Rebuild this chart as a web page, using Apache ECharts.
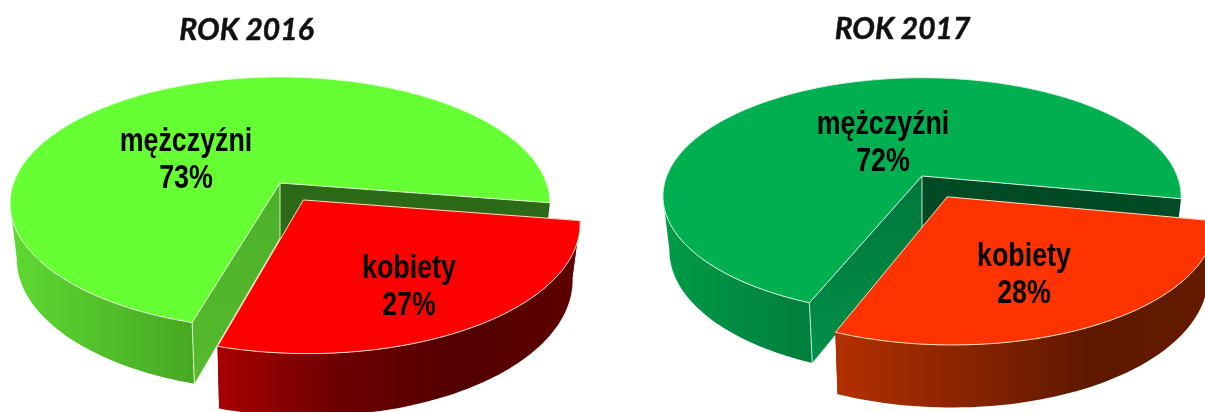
<!DOCTYPE html>
<html>
<head>
<meta charset="utf-8">
<style>html,body{margin:0;padding:0;background:#fff}#c{width:1205px;height:412px}</style>
<script src="https://cdn.jsdelivr.net/npm/echarts@6/dist/echarts.min.js"></script>
</head>
<body>
<div id="c"></div>
<script>
const categories = ['mężczyźni', 'kobiety'];
const years = ['ROK 2016', 'ROK 2017'];
const values2016 = [73, 27];
const values2017 = [72, 28];

const palette2016 = [
  { top: '#66ff33', wall: ['#5ed932', '#52c02a', '#46a822'], front: ['#4cb02a', '#55bb2c'], back: '#2d6a17', edge: '#e4ffd8' },
  { top: '#ff0000', wall: ['#a80000', '#6c0000', '#520000', '#5e0000'], front: ['#800000', '#800000'], back: '#500000', edge: '#ffe0c8' }
];
const palette2017 = [
  { top: '#00b050', wall: ['#009c48', '#008c42', '#007f3c'], front: ['#00773a', '#009048'], back: '#004a26', edge: '#d8f4e4' },
  { top: '#ff3300', wall: ['#b33000', '#8a2400', '#5e1800', '#641a00'], front: ['#802000', '#802000'], back: '#501400', edge: '#ffe0c0' }
];

const layouts = [
  { cx: 280, cy: 183, A: 266.5, B: 123, k: 0.16, m: 0.975, H: 54.7, start: 9, explode: 0.16,
    labels: [[186, 160], [409, 287]], titleX: 246.5, titleY: 15.5 },
  { cx: 922, cy: 176, A: 255.3, B: 115, k: 0.17, m: 0.975, H: 53.4, start: 11, explode: 0.2,
    labels: [[883, 143], [1024, 275]], titleX: 902.5, titleY: 14 }
];

const rad = d => d * Math.PI / 180;

function makeRender(values, palette, L) {
  const total = values.reduce((a, b) => a + b, 0);
  const topPt = (X, Z) => {
    const s = 1 / (1 - L.k * Z);
    return [L.cx + L.A * X * s, L.cy + L.B * Z * s];
  };
  const botPt = (X, Z) => {
    const s = 1 / (1 - L.k * Z);
    return [L.cx + L.A * X * s * L.m, L.cy + L.B * Z * s * L.m + L.H * s];
  };
  const grad = (stops, horizontal) => ({
    type: 'linear', x: 0, y: 0, x2: horizontal ? 1 : 0, y2: horizontal ? 0 : 1,
    colorStops: stops.map((c, i) => ({ offset: stops.length > 1 ? i / (stops.length - 1) : 0, color: c }))
  });
  return function (params) {
    const i = params.dataIndex;
    const pal = palette[i];
    const span = values[1] / total * 360;
    const a0 = i === 1 ? L.start : L.start + span;
    const a1 = i === 1 ? L.start + span : L.start + 360;
    const mid = rad((a0 + a1) / 2);
    const ox = i === 1 ? Math.cos(mid) * L.explode : 0;
    const oz = i === 1 ? Math.sin(mid) * L.explode : 0;
    const P = a => [Math.cos(rad(a)) + ox, Math.sin(rad(a)) + oz];

    const arc = (from, to) => {
      const out = [];
      const n = Math.max(2, Math.ceil((to - from) / 1.5));
      for (let j = 0; j <= n; j++) out.push(P(from + (to - from) * j / n));
      return out;
    };
    const children = [];
    const wallEdge = { stroke: pal.edge, lineWidth: 1, opacity: 0.9 };

    const apexTop = topPt(ox, oz), apexBot = botPt(ox, oz);
    const s0 = P(a0), s1 = P(a1);
    children.push({ type: 'polygon', shape: { points: [apexTop, topPt(s1[0], s1[1]), botPt(s1[0], s1[1]), apexBot] },
      style: { fill: pal.back } });
    children.push({ type: 'polygon', shape: { points: [apexTop, topPt(s0[0], s0[1]), botPt(s0[0], s0[1]), apexBot] },
      style: { fill: grad(pal.front, false) } });
    children.push({ type: 'line', shape: { x1: apexTop[0], y1: apexTop[1], x2: apexBot[0], y2: apexBot[1] },
      style: wallEdge });

    // outer wall ends at the silhouette, where the rim of the disc turns away from the viewer
    const silhouette = 180 - Math.asin(L.k) * 180 / Math.PI;
    const w0 = Math.max(a0, 5), w1 = Math.min(a1, silhouette);
    if (w1 > w0) {
      const ring = arc(w0, w1);
      const pts = ring.map(p => topPt(p[0], p[1])).concat(ring.slice().reverse().map(p => botPt(p[0], p[1])));
      children.push({ type: 'polygon', shape: { points: pts }, style: { fill: grad(pal.wall, true) } });
      if (i === 0) {
        const t = topPt(s0[0], s0[1]), b = botPt(s0[0], s0[1]);
        children.push({ type: 'line', shape: { x1: t[0], y1: t[1], x2: b[0], y2: b[1] }, style: wallEdge });
      }
    }

    const topPts = [apexTop].concat(arc(a0, a1).map(p => topPt(p[0], p[1])));
    children.push({ type: 'polygon', shape: { points: topPts },
      style: { fill: pal.top, stroke: pal.edge, lineWidth: 1 } });

    children.push({ type: 'text', x: L.labels[i][0], y: L.labels[i][1], scaleX: 0.8, scaleY: 1,
      style: {
        text: categories[i] + '\n' + values[i] + '%',
        font: 'bold 33.5px "Liberation Sans", sans-serif',
        lineHeight: 37, fill: '#000', align: 'center', verticalAlign: 'middle'
      } });
    return { type: 'group', children };
  };
}

const chart = echarts.init(document.getElementById('c'), null, { renderer: 'canvas' });
const seriesData = [values2016, values2017];
const palettes = [palette2016, palette2017];
chart.setOption({
  animation: false,
  backgroundColor: '#fff',
  title: years.map((t, i) => ({
    text: t, left: layouts[i].titleX, top: layouts[i].titleY, textAlign: 'center', padding: 0,
    textStyle: { fontFamily: 'Lato, "Open Sans", sans-serif', fontWeight: 'bold', fontStyle: 'italic', fontSize: 30, color: '#111',
      textBorderColor: '#111', textBorderWidth: 0.5 }
  })),
  series: seriesData.map((vals, i) => ({
    type: 'custom',
    coordinateSystem: 'none',
    silent: true,
    clip: false,
    renderItem: makeRender(vals, palettes[i], layouts[i]),
    data: vals.map((v, j) => ({ name: categories[j], value: v }))
  }))
});
</script>
</body>
</html>
